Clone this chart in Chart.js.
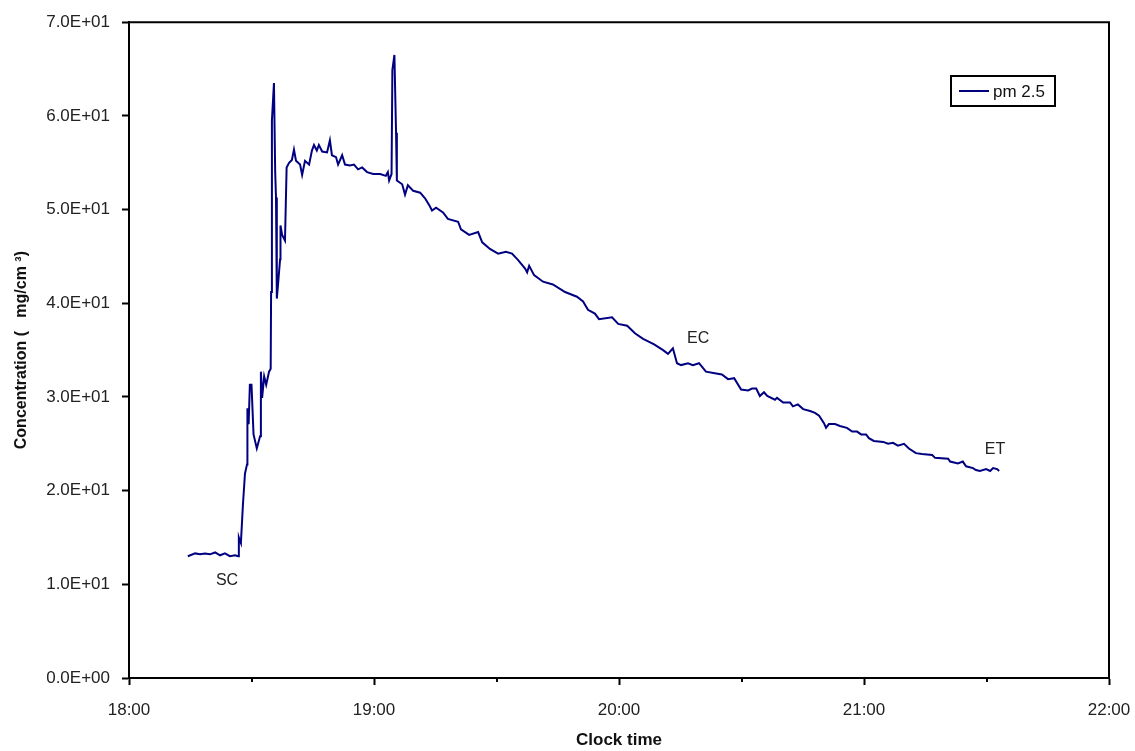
<!DOCTYPE html>
<html>
<head>
<meta charset="utf-8">
<script src="https://cdn.jsdelivr.net/npm/chart.js@4.4.1/dist/chart.umd.min.js"></script>
<style>
html,body{margin:0;padding:0;background:#fff;}
#wrap{width:1135px;height:751px;position:relative;}
</style>
</head>
<body>
<div id="wrap"><canvas id="c" width="1135" height="751"></canvas></div>
<script>
// Minutes after 18:00
const minutesAfter1800 = [
  14.4,16.2,17.4,18.6,19.8,21.1,22.3,23.5,24.7,26.0,26.7,26.9,27.2,27.4,27.9,28.4,28.9,29.0,29.3,29.6,
  30.0,30.5,31.3,32.1,32.3,32.6,33.1,33.6,34.3,34.7,34.8,35.0,35.5,35.8,36.0,36.2,36.5,37.0,37.1,37.5,
  38.2,38.6,39.2,39.9,40.4,40.9,41.9,42.4,43.1,44.1,44.8,45.3,46.0,46.5,47.3,48.5,49.2,49.7,50.7,51.2,
  52.2,52.9,54.1,55.1,56.1,57.1,58.3,59.8,61.5,62.9,63.4,63.7,64.3,64.5,65.0,65.4,65.6,66.9,67.6,68.3,
  69.6,71.3,72.5,73.5,74.2,75.2,76.9,78.1,80.6,81.3,83.3,85.5,86.5,88.4,90.4,92.3,93.8,95.3,97.0,97.5,
  98.0,99.2,101.4,103.8,106.8,109.7,111.2,112.4,114.1,115.1,118.3,119.8,122.0,123.9,125.9,128.6,130.8,132.0,133.2,134.2,
  135.2,136.9,138.1,139.6,141.3,143.8,145.2,146.7,148.2,149.9,151.6,152.6,153.6,154.5,155.5,156.3,158.2,158.7,160.2,161.9,
  162.6,163.8,165.1,166.8,168.0,169.0,170.2,170.7,171.4,172.9,174.1,175.8,177.1,178.3,179.3,180.5,181.2,182.4,184.7,185.9,
  187.1,188.3,189.8,191.0,192.7,194.2,196.7,197.4,200.6,201.1,203.0,204.2,205.0,206.7,207.4,208.4,209.9,210.9,211.6,212.6,
  213.1
];
const pm25 = [
  13.0,13.3,13.2,13.3,13.2,13.4,13.1,13.3,13.0,13.1,13.0,15.0,14.6,14.4,18.5,21.8,22.8,28.8,27.1,31.3,
  31.3,26.0,24.5,25.8,32.7,29.9,32.2,31.3,32.7,33.0,41.2,59.5,63.5,54.0,51.3,40.5,42.0,44.7,48.3,47.3,
  46.7,54.5,55.0,55.3,56.4,55.2,54.8,53.7,55.2,54.8,56.3,56.9,56.3,56.9,56.2,56.1,57.4,55.8,55.6,54.8,
  55.8,54.8,54.7,54.8,54.3,54.5,54.0,53.8,53.8,53.6,54.0,53.1,53.8,64.9,66.5,58.2,53.1,52.7,51.6,52.6,
  52.0,51.8,51.2,50.5,49.9,50.2,49.7,49.0,48.7,47.9,47.3,47.6,46.5,45.8,45.3,45.5,45.3,44.6,43.7,43.3,
  44.0,43.0,42.3,42.0,41.2,40.7,40.2,39.3,38.9,38.3,38.5,37.8,37.6,36.8,36.2,35.6,35.0,34.6,35.2,33.6,
  33.4,33.6,33.4,33.6,32.7,32.5,32.4,31.9,32.0,30.8,30.7,30.9,30.9,30.1,30.5,30.1,29.7,29.9,29.4,29.4,
  29.0,29.2,28.7,28.5,28.3,28.0,27.2,26.7,27.1,27.1,26.9,26.7,26.3,26.3,26.0,26.0,25.6,25.3,25.2,25.0,
  25.1,24.8,25.0,24.5,24.0,23.9,23.8,23.5,23.4,23.1,22.9,23.1,22.6,22.4,22.2,22.1,22.3,22.1,22.4,22.3,
  22.1
];
const xTickLabels = ['18:00','19:00','20:00','21:00','22:00'];
const yTickLabels = ['0.0E+00','1.0E+01','2.0E+01','3.0E+01','4.0E+01','5.0E+01','6.0E+01','7.0E+01'];
const seriesName = 'pm 2.5';
const noteText = ['SC','EC','ET'];
const noteX = [24.0,139.4,212.1];
const noteY = [10.4,36.2,24.4];

const FONT = '"Liberation Sans", Arial, sans-serif';
const points = minutesAfter1800.map((m,i)=>({x:m,y:pm25[i]}));

const framePlugin = {
  id:'frame',
  afterDraw(chart){
    const {ctx, chartArea:a, scales:{x,y}} = chart;
    ctx.save();
    ctx.strokeStyle='#000'; ctx.lineWidth=2;
    ctx.beginPath();
    ctx.moveTo(a.left-1,a.top); ctx.lineTo(a.right,a.top); ctx.lineTo(a.right,a.bottom);
    ctx.stroke();
    for(let m=30;m<240;m+=60){
      const px=Math.round(x.getPixelForValue(m));
      ctx.beginPath(); ctx.moveTo(px,a.bottom); ctx.lineTo(px,a.bottom+4); ctx.stroke();
    }
    ctx.fillStyle='#222'; ctx.font='16px '+FONT; ctx.textAlign='center'; ctx.textBaseline='middle';
    noteText.forEach((t,i)=>{
      ctx.fillText(t, x.getPixelForValue(noteX[i]), y.getPixelForValue(noteY[i]));
    });
    const lx=951, ly=76, lw=104, lh=30;
    ctx.lineWidth=2; ctx.strokeStyle='#000';
    ctx.strokeRect(lx,ly,lw,lh);
    ctx.strokeStyle='#000080'; ctx.lineWidth=2;
    ctx.beginPath(); ctx.moveTo(lx+8,ly+15); ctx.lineTo(lx+38,ly+15); ctx.stroke();
    ctx.fillStyle='#111'; ctx.textAlign='left'; ctx.font='17px '+FONT;
    ctx.fillText(chart.data.datasets[0].label, lx+42, ly+16);
    ctx.restore();
  }
};

new Chart(document.getElementById('c'), {
  type:'line',
  data:{datasets:[{
    label:seriesName,
    data:points,
    borderColor:'#000080',
    borderWidth:2,
    pointRadius:0,
    tension:0,
    fill:false
  }]},
  options:{
    responsive:false,
    animation:false,
    devicePixelRatio:1,
    layout:{padding:{top:19,right:26,left:0,bottom:0}},
    plugins:{legend:{display:false},tooltip:{enabled:false}},
    scales:{
      x:{
        type:'linear', min:0, max:240,
        afterFit(s){ s.height=73; s.paddingRight=0; s.paddingLeft=0; },
        ticks:{stepSize:60, color:'#222', font:{family:FONT,size:17}, padding:15, maxRotation:0,
          callback:(v)=>xTickLabels[Math.round(v/60)]},
        grid:{display:true, drawOnChartArea:false, drawTicks:true, tickLength:7, tickColor:'#000', tickWidth:2},
        border:{display:true,color:'#000',width:2},
        title:{display:true,text:'Clock time',color:'#111',font:{family:FONT,size:17,weight:'bold'},padding:{top:0,bottom:0}}
      },
      y:{
        min:0, max:70,
        afterFit(s){ s.width=129; },
        ticks:{stepSize:10, color:'#222', font:{family:FONT,size:17}, padding:12,
          callback:(v)=>yTickLabels[Math.round(v/10)]},
        grid:{display:true, drawOnChartArea:false, drawTicks:true, tickLength:7, tickColor:'#000', tickWidth:2},
        border:{display:true,color:'#000',width:2},
        title:{display:true,text:'Concentration (   mg/cm ³)',color:'#111',font:{family:FONT,size:16,weight:'bold'},padding:{top:12,bottom:0}}
      }
    }
  },
  plugins:[framePlugin]
});
</script>
</body>
</html>
